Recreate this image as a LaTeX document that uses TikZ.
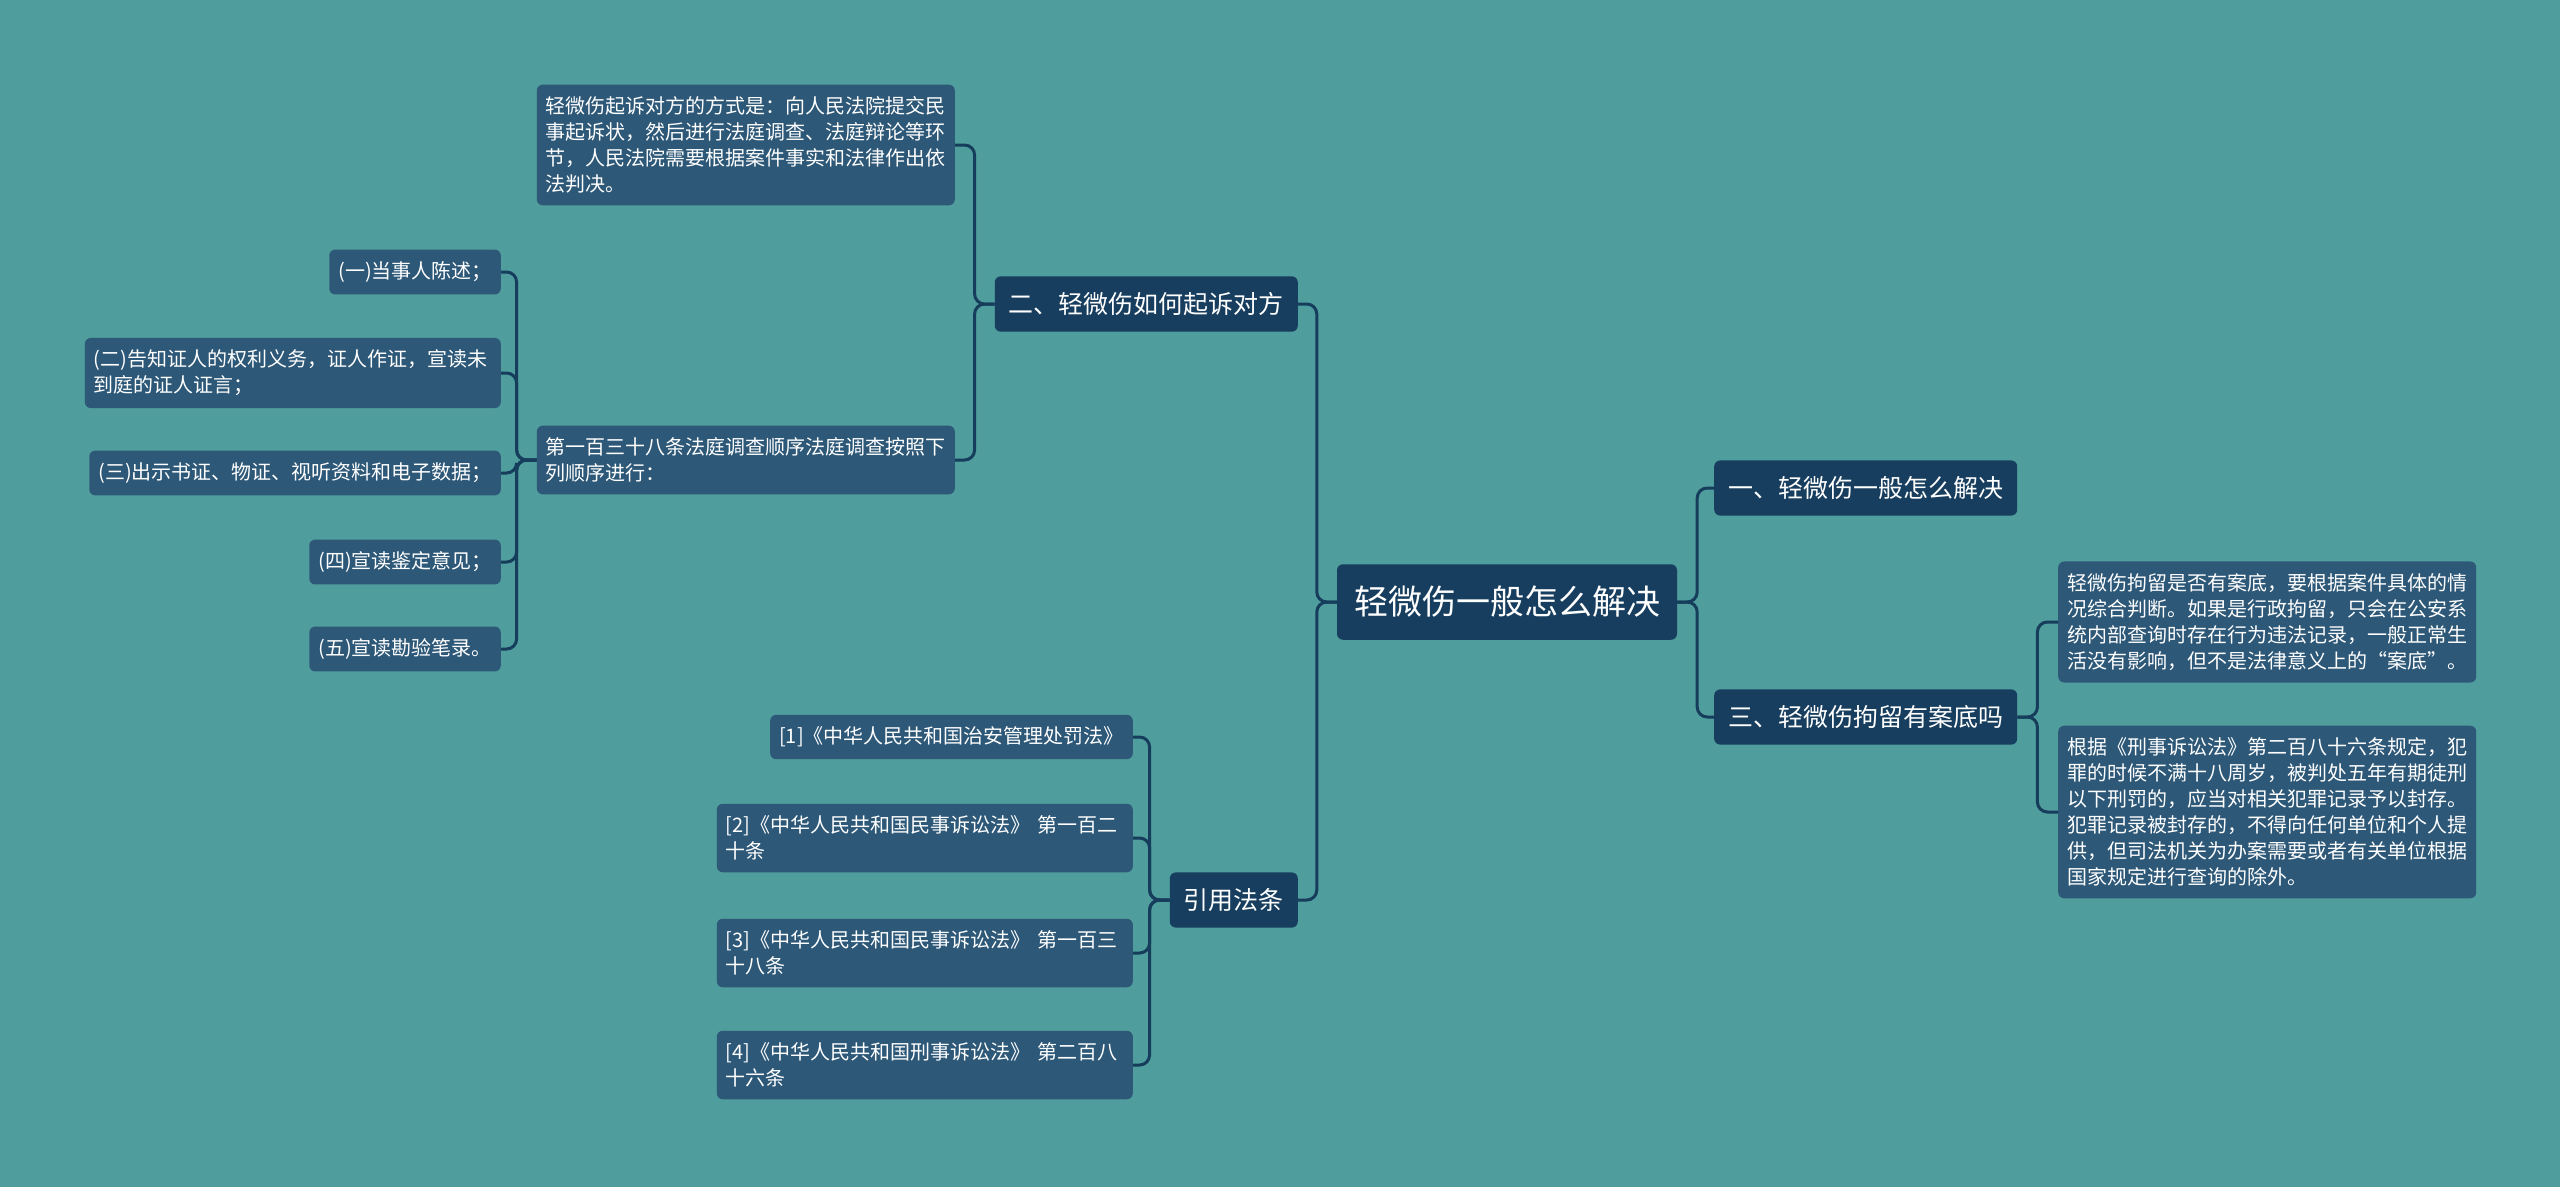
\documentclass[tikz,border=0pt]{standalone}
\usepackage{fontspec}
\setmainfont{Noto Sans CJK SC}
\definecolor{bgteal}{HTML}{4F9D9D}
\definecolor{navy}{HTML}{173E5E}
\definecolor{slate}{HTML}{2D5878}
\definecolor{linkblue}{HTML}{163D5C}

\begin{document}
\begin{tikzpicture}[x=1pt,y=-1pt,
  every node/.style={text=white, rounded corners=6pt},
  mainnode/.style={fill=navy, font=\fontsize{34}{40}\selectfont, inner xsep=17pt, inner ysep=22pt},
  topic/.style={fill=navy, font=\fontsize{25}{30}\selectfont, inner xsep=14pt, inner ysep=16pt},
  leaf/.style={fill=slate, font=\fontsize{20}{26}\selectfont, align=left, inner xsep=9pt, inner ysep=12pt},
  wide/.style={text width=398pt},
  link/.style={draw=linkblue, line width=3pt, rounded corners=10pt}]
  \fill[bgteal] (0,0) rectangle (2560,1187);

  % centre and first level
  \node[mainnode] (root) at (1507,602) {轻微伤一般怎么解决};
  \node[topic, anchor=west] (one) at (1714,488) {一、轻微伤一般怎么解决};
  \node[topic, anchor=west] (three) at (1714,717) {三、轻微伤拘留有案底吗};
  \node[topic, anchor=east] (two) at (1298,304) {二、轻微伤如何起诉对方};
  \node[topic, anchor=east] (cite) at (1298,900) {引用法条};

  % right side
  \node[leaf, anchor=west] (r1) at (2058,622) {轻微伤拘留是否有案底，要根据案件具体的情\\况综合判断。如果是行政拘留，只会在公安系\\统内部查询时存在行为违法记录，一般正常生\\活没有影响，但不是法律意义上的“案底”。};
  \node[leaf, anchor=west] (r2) at (2058,812) {根据《刑事诉讼法》第二百八十六条规定，犯\\罪的时候不满十八周岁，被判处五年有期徒刑\\以下刑罚的，应当对相关犯罪记录予以封存。\\犯罪记录被封存的，不得向任何单位和个人提\\供，但司法机关为办案需要或者有关单位根据\\国家规定进行查询的除外。};

  % left side, upper branch
  \node[leaf, anchor=east] (way) at (955,145) {轻微伤起诉对方的方式是：向人民法院提交民\\事起诉状，然后进行法庭调查、法庭辩论等环\\节，人民法院需要根据案件事实和法律作出依\\法判决。};
  \node[leaf, anchor=east] (order) at (955,460) {第一百三十八条法庭调查顺序法庭调查按照下\\列顺序进行：};
  \node[leaf, anchor=east] (s1) at (501,272) {(一)当事人陈述；};
  \node[leaf, wide, anchor=east] (s2) at (501,373) {(二)告知证人的权利义务，证人作证，宣读未\\到庭的证人证言；};
  \node[leaf, anchor=east] (s3) at (501,473) {(三)出示书证、物证、视听资料和电子数据；};
  \node[leaf, anchor=east] (s4) at (501,562) {(四)宣读鉴定意见；};
  \node[leaf, anchor=east] (s5) at (501,649) {(五)宣读勘验笔录。};

  % left side, citations
  \node[leaf, anchor=east] (c1) at (1133,737) {[1]《中华人民共和国治安管理处罚法》};
  \node[leaf, wide, anchor=east] (c2) at (1133,838) {[2]《中华人民共和国民事诉讼法》 第一百二\\十条};
  \node[leaf, wide, anchor=east] (c3) at (1133,953) {[3]《中华人民共和国民事诉讼法》 第一百三\\十八条};
  \node[leaf, wide, anchor=east] (c4) at (1133,1065) {[4]《中华人民共和国刑事诉讼法》 第二百八\\十六条};

  % connectors
  \foreach \c in {one,three}
    \draw[link] (root.east) -- ++(20,0) |- (\c.west);
  \foreach \c in {r1,r2}
    \draw[link] (three.east) -- ++(20,0) |- (\c.west);
  \foreach \c in {two,cite}
    \draw[link] (root.west) -- ++(-20,0) |- (\c.east);
  \foreach \c in {way,order}
    \draw[link] (two.west) -- ++(-20,0) |- (\c.east);
  \foreach \c in {s1,s2,s3,s4,s5}
    \draw[link] (order.west) -- ++(-20,0) |- (\c.east);
  \foreach \c in {c1,c2,c3,c4}
    \draw[link] (cite.west) -- ++(-20,0) |- (\c.east);
\end{tikzpicture}
\end{document}
